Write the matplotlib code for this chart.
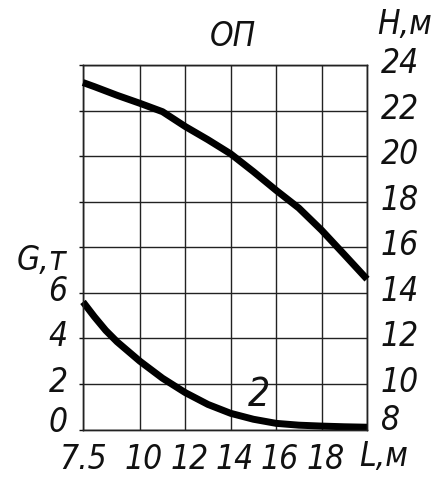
import matplotlib
matplotlib.use("Agg")
import matplotlib.pyplot as plt
from matplotlib.transforms import ScaledTranslation

# Pipe length L, m
length_m = [7.5, 8, 8.5, 9, 10, 11, 12, 13, 14, 15, 16, 17, 18, 19, 20]
# Head H, m (right axis)
head_m = [23.23, 23.05, 22.86, 22.67, 22.32, 21.95, 21.3, 20.72, 20.1, 19.32, 18.5, 17.72, 16.75, 15.68, 14.6]
# Flow G, t (left axis)
flow_t = [5.6, 4.95, 4.35, 3.85, 3.0, 2.25, 1.62, 1.1, 0.71, 0.45, 0.27, 0.19, 0.15, 0.12, 0.1]

x_ticks = [7.5, 10, 12, 14, 16, 18, 20]
x_labels = ["7.5", "10", "12", "14", "16", "18", ""]
g_ticks = list(range(0, 17, 2))
g_labels = ["0", "2", "4", "6", "", "", "", "", ""]
h_ticks = list(range(8, 25, 2))
h_labels = [str(v) for v in h_ticks]

curve_label = "2"
title = "ОП"

plt.rcParams["font.family"] = ["DejaVu Sans"]
plt.rcParams["font.stretch"] = "condensed"
FS = 24
ink = "#111111"
txt = dict(fontsize=FS, style="italic", stretch="condensed")

fig = plt.figure(figsize=(4.37, 4.82), dpi=100)
W, H = 437, 482
ax = fig.add_axes([83 / W, 1 - 429.5 / H, (367 - 83) / W, (429.5 - 65) / H])
ax2 = ax.twinx()

ax.set_xlim(7.5, 20)
ax.set_ylim(0, 16)
ax2.set_ylim(8, 24)

ax.set_xticks(x_ticks)
ax.set_xticklabels(x_labels, **txt)
ax.set_yticks(g_ticks)
ax.set_yticklabels(g_labels, **txt)
ax2.set_yticks(h_ticks)
ax2.set_yticklabels(h_labels, **txt)

ax.grid(True, color="#222222", linewidth=1.0)
ax.tick_params(axis="x", length=0, pad=10, colors=ink)
ax.tick_params(axis="y", length=3, width=1.0, pad=8, colors=ink)
ax2.tick_params(axis="y", length=0, pad=10, colors=ink)
for a in (ax, ax2):
    for s in a.spines.values():
        s.set_color("#222222")
        s.set_linewidth(1.0)


def nudge(label, dx_px, dy_px):
    label.set_transform(label.get_transform()
                        + ScaledTranslation(dx_px / 100, dy_px / 100, fig.dpi_scale_trans))


# hand-lettered scale: numbers sit slightly above their grid lines
for lab in ax2.get_yticklabels():
    nudge(lab, 0, 5)
for lab in ax.get_yticklabels():
    nudge(lab, 0, 5)
nudge(ax2.get_yticklabels()[0], 0, 8)
nudge(ax.get_yticklabels()[0], 0, 6)
for lab in ax.get_xticklabels()[1:]:
    nudge(lab, 4, 0)

ax.plot(length_m, flow_t, color="black", linewidth=5, solid_joinstyle="round",
        solid_capstyle="butt", zorder=5, clip_on=False)
ax2.plot(length_m, head_m, color="black", linewidth=5, solid_joinstyle="round",
         solid_capstyle="butt", zorder=5, clip_on=False)

ax.text(15.25, 1.5, curve_label, color=ink, ha="center", va="center",
        fontsize=28, style="italic", stretch="condensed")

fig.text(233 / W, 1 - 37 / H, title, color=ink, ha="center", va="center", **txt)
fig.text(405 / W, 1 - 24 / H, "H,м", color=ink, ha="center", va="center", **txt)
fig.text(42 / W, 1 - 260 / H, "G,т", color=ink, ha="center", va="center", **txt)
fig.text(384 / W, 1 - 457 / H, "L,м", color=ink, ha="center", va="center", **txt)

fig.savefig("out.png", dpi=100, facecolor="white")
